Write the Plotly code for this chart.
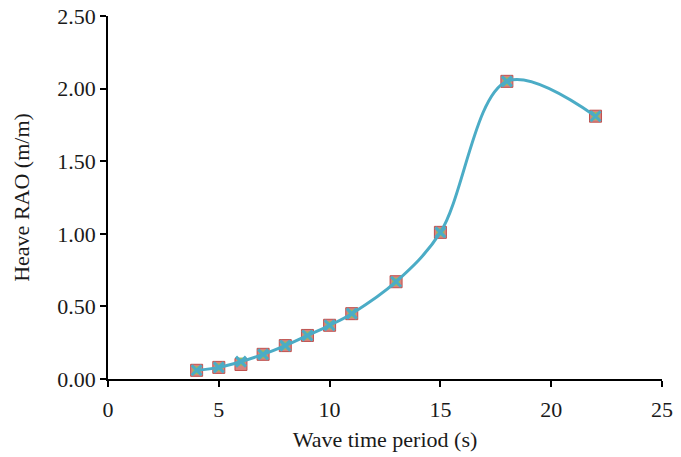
import plotly.graph_objects as go

periods = [4, 5, 6, 7, 8, 9, 10, 11, 13, 15, 18, 22]
rao_a = [0.06, 0.08, 0.10, 0.17, 0.23, 0.30, 0.37, 0.45, 0.67, 1.01, 2.05, 1.81]
rao_b = [0.06, 0.08, 0.12, 0.17, 0.23, 0.30, 0.37, 0.45, 0.67, 1.01, 2.05, 1.81]
rao_c = [0.06, 0.08, 0.12, 0.17, 0.23, 0.30, 0.37, 0.45, 0.67, 1.01, 2.05, 1.81]

x_ticks = [0, 5, 10, 15, 20, 25]
y_ticks = [0, 0.5, 1.0, 1.5, 2.0, 2.5]
y_tick_text = ["0.00", "0.50", "1.00", "1.50", "2.00", "2.50"]

fig = go.Figure()
fig.add_trace(go.Scatter(x=periods, y=rao_a, mode="markers",
                         marker=dict(symbol="square", size=12, color="#d7837f",
                                     line=dict(color="#c0504d", width=1)),
                         showlegend=False))
fig.add_trace(go.Scatter(x=periods, y=rao_b, mode="markers",
                         marker=dict(symbol="square", size=8, color="#9bbb59"),
                         showlegend=False))
fig.add_trace(go.Scatter(x=periods, y=rao_c, mode="lines+markers",
                         line=dict(shape="spline", smoothing=1.0, color="#4bacc6", width=3),
                         marker=dict(symbol="x-thin", size=10, color="#4bacc6",
                                     line=dict(color="#4bacc6", width=3)),
                         showlegend=False))

tick_font = dict(family="Liberation Serif", size=22, color="#1a1a1a")
title_font = dict(family="Liberation Serif", size=22, color="#1a1a1a")
fig.update_layout(
    width=681, height=457,
    margin=dict(l=108, r=19, t=16, b=78),
    paper_bgcolor="white", plot_bgcolor="white",
    font=tick_font,
    xaxis=dict(range=[0, 25], tickvals=x_ticks, ticks="outside", ticklen=6,
               tickcolor="black", tickwidth=1.5, showline=True, linecolor="black",
               linewidth=1.5, showgrid=False, zeroline=False, tickfont=tick_font,
               ticklabelstandoff=4, automargin=False, ticklabeloverflow="allow",
               title=dict(text="Wave time period (s)", font=title_font, standoff=10)),
    yaxis=dict(range=[0, 2.5], tickvals=y_ticks, ticktext=y_tick_text, ticks="outside",
               ticklen=6, tickcolor="black", tickwidth=1.5, showline=True,
               linecolor="black", linewidth=1.5, showgrid=False, zeroline=False,
               tickfont=tick_font, ticklabeloverflow="allow", automargin=False,
               title=dict(text="Heave RAO (m/m)", font=title_font, standoff=22)),
)
fig.write_html("out.html",
               config={"displayModeBar": False},
               post_script="document.body.style.margin='0';document.body.style.overflow='hidden';")
